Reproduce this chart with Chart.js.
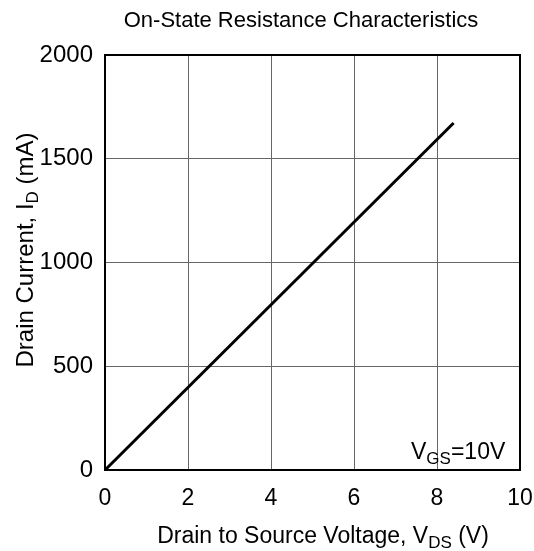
<!DOCTYPE html>
<html>
<head>
<meta charset="utf-8">
<script src="https://cdn.jsdelivr.net/npm/chart.js@4"></script>
<style>
  html, body { margin: 0; padding: 0; background: #fff; }
  #wrap { width: 534px; height: 551px; }
</style>
</head>
<body>
<div id="wrap"><canvas id="miGrafico" width="534" height="551"></canvas></div>
<script>
const vds = [0, 8.4];
const idrain = [0, 1672];
const xTicks = [0, 2, 4, 6, 8, 10];
const yTicks = [0, 500, 1000, 1500, 2000];

const FONT = '"Liberation Sans", Arial, sans-serif';

// texto con subindices: partes [texto, esSub]
function drawRich(ctx, parts, x, y, size, align) {
  const subSize = Math.round(size * 0.72);
  let total = 0;
  parts.forEach(p => {
    ctx.font = (p[1] ? subSize : size) + 'px ' + FONT;
    total += ctx.measureText(p[0]).width;
  });
  let cx = align === 'center' ? x - total / 2 : (align === 'right' ? x - total : x);
  ctx.textAlign = 'left';
  ctx.textBaseline = 'alphabetic';
  parts.forEach(p => {
    ctx.font = (p[1] ? subSize : size) + 'px ' + FONT;
    ctx.fillText(p[0], cx, p[1] ? y + size * 0.2 : y);
    cx += ctx.measureText(p[0]).width;
  });
}

const textos = {
  id: 'textos',
  afterDraw(chart) {
    const ctx = chart.ctx;
    const a = chart.chartArea;
    ctx.save();
    // marco
    ctx.strokeStyle = '#000';
    ctx.lineWidth = 2;
    ctx.strokeRect(a.left, a.top, a.right - a.left, a.bottom - a.top);
    ctx.fillStyle = '#000';
    // titulo
    drawRich(ctx, [['On-State Resistance Characteristics', false]], 301, 27, 22, 'center');
    // eje x
    drawRich(ctx, [['Drain to Source Voltage, V', false], ['DS', true], [' (V)', false]], 323, 543, 23, 'center');
    // eje y
    ctx.translate(33, 250);
    ctx.rotate(-Math.PI / 2);
    drawRich(ctx, [['Drain Current, I', false], ['D', true], [' (mA)', false]], 0, 0, 24, 'center');
    ctx.restore();
    ctx.save();
    ctx.fillStyle = '#000';
    drawRich(ctx, [['V', false], ['GS', true], ['=10V', false]], 411, 459, 23, 'left');
    ctx.restore();
  }
};

document.addEventListener('DOMContentLoaded', () => {
  const canvas = document.getElementById('miGrafico');
  new Chart(canvas.getContext('2d'), {
    type: 'scatter',
    data: {
      datasets: [{
        data: vds.map((v, i) => ({ x: v, y: idrain[i] })),
        showLine: true,
        borderColor: '#000',
        borderWidth: 3,
        pointRadius: 0,
        fill: false
      }]
    },
    options: {
      responsive: false,
      animation: false,
      layout: { padding: { left: 0, top: 55, right: 14, bottom: 41 } },
      plugins: { legend: { display: false }, tooltip: { enabled: false } },
      scales: {
        x: {
          type: 'linear', min: 0, max: 10,
          afterBuildTicks: s => { s.ticks = xTicks.map(v => ({ value: v })); },
          afterFit: s => { s.height = 40; s.paddingRight = 0; s.paddingLeft = 0; },
          grid: { color: '#666', lineWidth: 1, drawTicks: false },
          border: { color: '#000', width: 2 },
          ticks: { color: '#000', font: { family: FONT, size: 23 }, padding: 15, maxRotation: 0,
                   callback: v => String(v) }
        },
        y: {
          type: 'linear', min: 0, max: 2000,
          afterBuildTicks: s => { s.ticks = yTicks.map(v => ({ value: v })); },
          afterFit: s => { s.width = 105; s.paddingTop = 0; s.paddingBottom = 0; },
          grid: { color: '#666', lineWidth: 1, drawTicks: false },
          border: { color: '#000', width: 2 },
          ticks: { color: '#000', font: { family: FONT, size: 24 }, padding: 12,
                   callback: v => String(v) }
        }
      }
    },
    plugins: [textos]
  });
});
</script>
</body>
</html>
